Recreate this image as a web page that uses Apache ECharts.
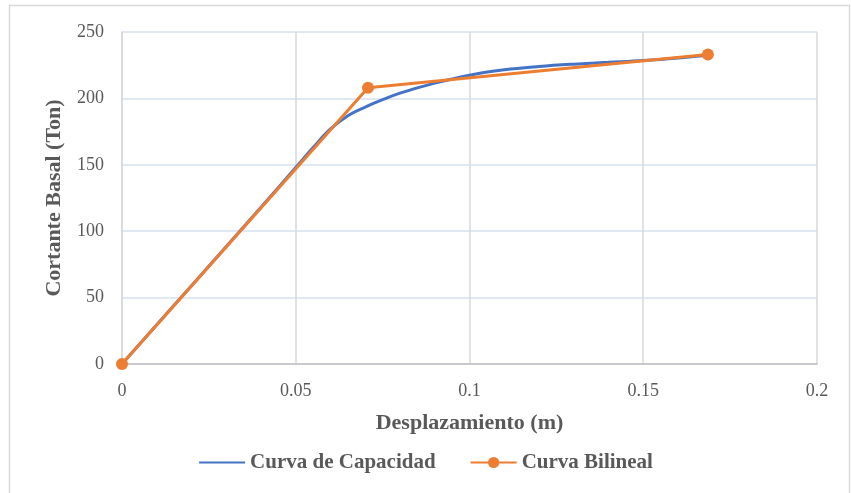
<!DOCTYPE html>
<html lang="es">
<head>
    <meta charset="UTF-8">
    <title>Curva de Capacidad</title>
    <script src="https://cdn.jsdelivr.net/npm/echarts@6/dist/echarts.min.js"></script>
    <style>
        body { margin: 0; background: #fff; }
    </style>
</head>
<body>
<div id="main" style="width: 851px;height:493px;"></div>
<script type="text/javascript">
// curva de capacidad
var capX = [0, 0.02, 0.04, 0.05, 0.055, 0.06, 0.065, 0.07, 0.075, 0.08, 0.09, 0.1, 0.11, 0.12, 0.13, 0.14, 0.15, 0.16, 0.1686];
var capY = [0, 59, 118, 148, 163, 177, 187, 193.5, 199, 204, 211.5, 217.5, 221.5, 224, 225.8, 227.2, 228.6, 230.5, 232.5];
// curva bilineal
var bilX = [0, 0.0708, 0.1686];
var bilY = [0, 208, 233];

var xTicks = [0, 0.05, 0.1, 0.15, 0.2];
var yTicks = [0, 50, 100, 150, 200, 250];

function pares(xs, ys) {
    var out = [];
    for (var i = 0; i < xs.length; i++) {
        out.push([xs[i], ys[i]]);
    }
    return out;
}

var serif = '"Liberation Serif", "Times New Roman", serif';
var myChart = echarts.init(document.getElementById('main'));
var option = {
    animation: false,
    textStyle: { fontFamily: serif },
    graphic: [{
        type: 'rect',
        shape: { x: 9.5, y: 5.5, width: 840, height: 495 },
        style: { fill: 'none', stroke: '#D9D9D9', lineWidth: 1.5 },
        silent: true
    }],
    grid: { left: 122, right: 34, top: 32, bottom: 129 },
    legend: {
        bottom: 15,
        left: 'center',
        itemWidth: 46,
        itemHeight: 14,
        itemGap: 34,
        textStyle: { fontFamily: serif, fontSize: 21, fontWeight: 'bold', color: '#595959' },
        data: [
            { name: 'Curva de Capacidad', itemStyle: { opacity: 0 } },
            'Curva Bilineal'
        ]
    },
    xAxis: {
        type: 'value',
        min: xTicks[0],
        max: xTicks[xTicks.length - 1],
        interval: 0.05,
        name: 'Desplazamiento (m)',
        nameLocation: 'middle',
        nameGap: 48,
        nameTextStyle: { fontFamily: serif, fontSize: 22, fontWeight: 'bold', color: '#595959' },
        axisLine: { show: true, lineStyle: { color: '#BFBFBF', width: 1.5 } },
        axisTick: { show: false },
        axisLabel: {
            margin: 18, fontSize: 18, color: '#595959', fontFamily: serif,
            formatter: function (v) { return String(+v.toFixed(2)); }
        },
        splitLine: { show: true, lineStyle: { color: '#D9D9D9', width: 1.5 } }
    },
    yAxis: {
        type: 'value',
        min: yTicks[0],
        max: yTicks[yTicks.length - 1],
        interval: 50,
        name: 'Cortante Basal (Ton)',
        nameLocation: 'middle',
        nameGap: 57,
        nameTextStyle: { fontFamily: serif, fontSize: 22, fontWeight: 'bold', color: '#595959' },
        axisLine: { show: true, lineStyle: { color: '#D9D9D9', width: 1.5 } },
        axisTick: { show: false },
        axisLabel: { margin: 18, fontSize: 18, color: '#595959', fontFamily: serif },
        splitLine: { show: true, lineStyle: { color: '#D6E0F0', width: 1.5 } }
    },
    series: [
        {
            name: 'Curva de Capacidad',
            type: 'line',
            data: pares(capX, capY),
            smooth: 0.4,
            symbol: 'none',
            lineStyle: { color: '#4472C4', width: 3 },
            itemStyle: { color: '#4472C4' }
        },
        {
            name: 'Curva Bilineal',
            type: 'line',
            data: pares(bilX, bilY),
            symbol: 'circle',
            symbolSize: 12,
            lineStyle: { color: '#ED7D31', width: 3 },
            itemStyle: { color: '#ED7D31' }
        }
    ]
};
myChart.setOption(option);
</script>
</body>
</html>
